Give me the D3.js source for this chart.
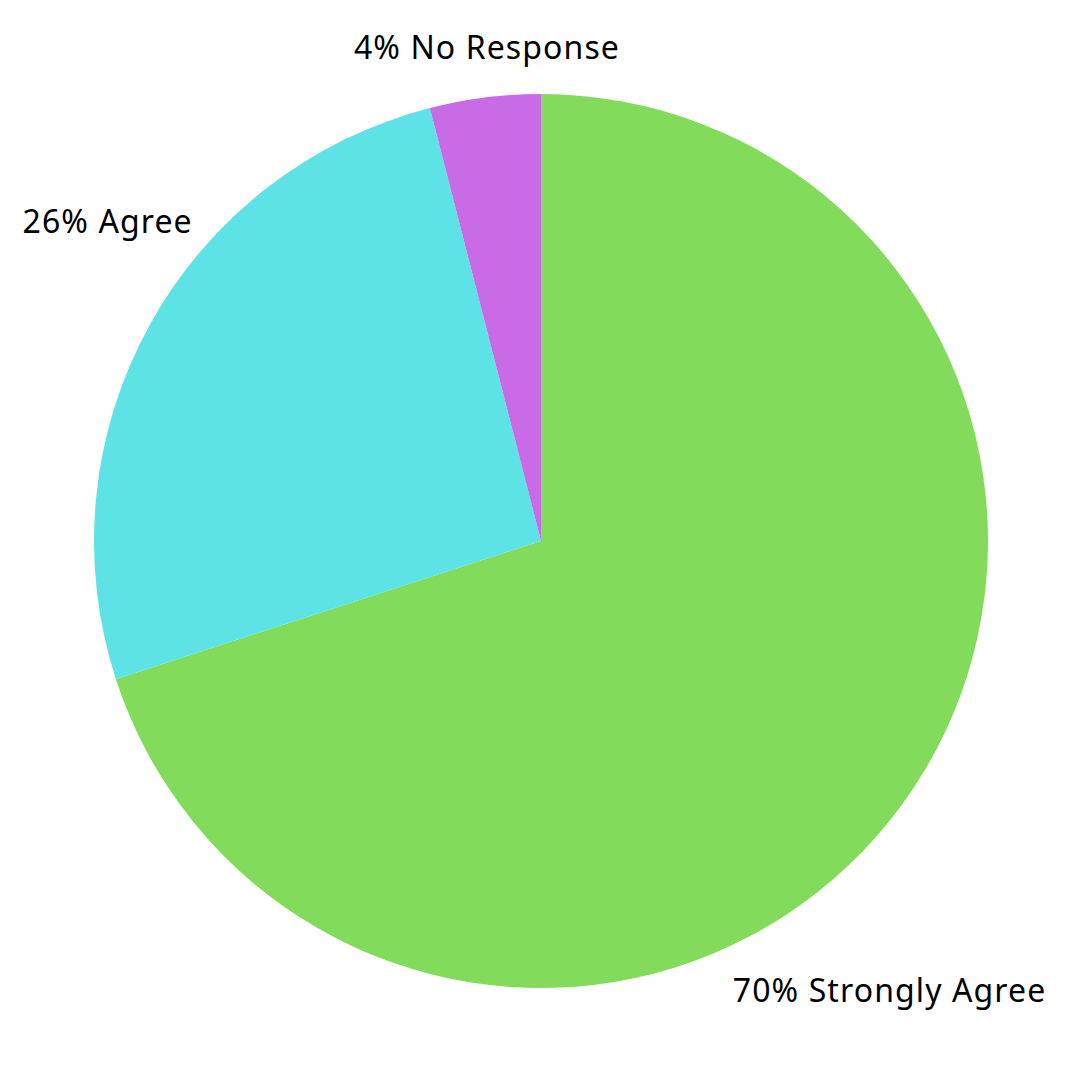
<!DOCTYPE html>
<html>
<head>
<meta charset="utf-8">
<script src="https://cdn.jsdelivr.net/npm/d3@7"></script>
<style>
  body { margin: 0; background: #fff; }
  svg { display: block; }
</style>
</head>
<body>
<svg id="chart" width="1080" height="1080"></svg>
<script>
const categories = ["Strongly Agree", "Agree", "No Response"];
const values = [70, 26, 4];
const colors = ["#82DB5A", "#5DE2E6", "#C96BE6"];

// where each label sits: angle (deg, clockwise from top), distance from centre, anchor
const labelAngle = [157.4, 311.5, 353.6];
const labelDist = [499, 465, 485];
const labelAnchor = ["start", "end", "middle"];

const width = 1080, height = 1080;
const cx = 541, cy = 541;
const radius = 447;

const svg = d3.select("#chart");
const g = svg.append("g").attr("transform", `translate(${cx},${cy})`);

const pie = d3.pie().sort(null).value(d => d.value);
const arc = d3.arc().innerRadius(0).outerRadius(radius);

const data = categories.map((c, i) => ({ name: c, value: values[i], color: colors[i], i: i }));
const arcs = pie(data);

g.selectAll("path")
    .data(arcs)
    .join("path")
    .attr("d", arc)
    .attr("fill", d => d.data.color);

g.selectAll("text")
    .data(arcs)
    .join("text")
    .attr("x", d => labelDist[d.data.i] * Math.sin(labelAngle[d.data.i] * Math.PI / 180))
    .attr("y", d => -labelDist[d.data.i] * Math.cos(labelAngle[d.data.i] * Math.PI / 180))
    .attr("text-anchor", d => labelAnchor[d.data.i])
    .style("font-family", "'Noto Sans', sans-serif")
    .style("font-size", "32px")
    .style("letter-spacing", "1.1px")
    .style("fill", "#000")
    .text(d => d.data.value + "% " + d.data.name);
</script>
</body>
</html>
